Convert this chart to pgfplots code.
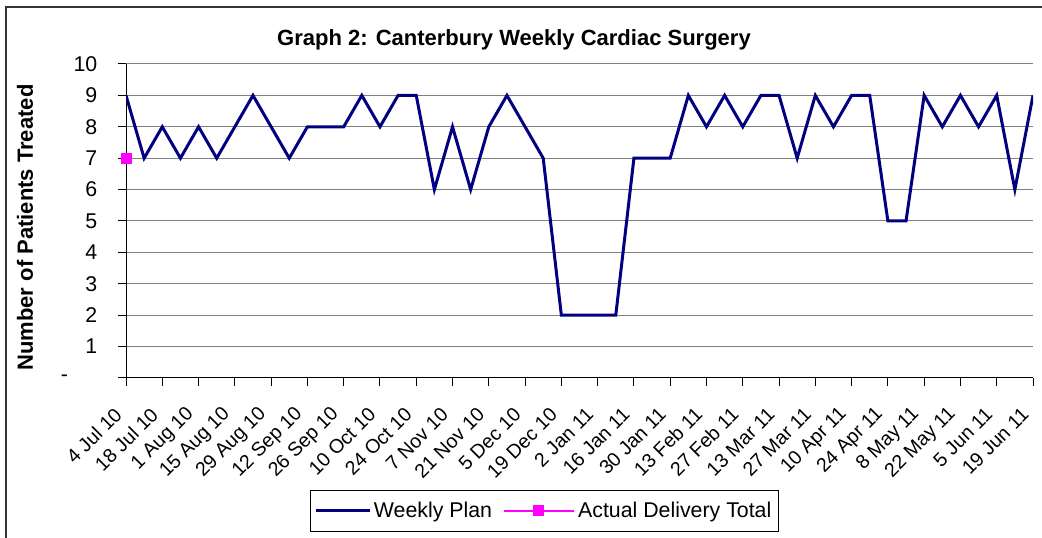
\documentclass[border=0pt]{standalone}
\usepackage{pgfplots}
\pgfplotsset{compat=1.18}
\usepackage{fontspec}
\setmainfont{Liberation Sans}

\definecolor{planNavy}{HTML}{000080}
\definecolor{actMagenta}{HTML}{FF00FF}
\definecolor{gridGray}{HTML}{808080}
\definecolor{frameGray}{HTML}{333333}

\newcommand{\lblfont}{\fontsize{16}{19}\selectfont}
\newcommand{\xlblfont}{\fontsize{14.7}{17}\selectfont}
\newcommand{\ttlfont}{\fontsize{16.5}{19}\selectfont\bfseries}

\pgfplotsset{
  planLegend/.style={legend image code/.code={\draw[##1] (0pt,0pt) -- (40pt,0pt);}},
  actLegend/.style={legend image code/.code={\draw[mark repeat=2,mark phase=2,##1] plot coordinates {(0pt,0pt) (26pt,0pt) (53pt,0pt)};}},
}

\begin{document}
\begin{tikzpicture}
  \useasboundingbox (0,0) rectangle (781.5pt,403.5pt);
  % chart frame (right and bottom edges fall outside the picture)
  \draw[frameGray, line width=1.5pt] (4.5pt,-2pt) -- (4.5pt,397.9pt) -- (784pt,397.9pt);
  \begin{axis}[
    at={(94.5pt,120pt)}, anchor=south west,
    scale only axis,
    width=680.25pt, height=235.5pt,
    xmin=0, xmax=50, ymin=0, ymax=10,
    axis x line=bottom, axis y line=left,
    axis line style={-, draw=black, line width=0.75pt},
    tick align=outside,
    major tick length=6pt,
    tick style={draw=black, line width=0.75pt},
    xtick={0,2,...,50},
    xticklabels={4 Jul 10,18 Jul 10,1 Aug 10,15 Aug 10,29 Aug 10,12 Sep 10,26 Sep 10,10 Oct 10,24 Oct 10,7 Nov 10,21 Nov 10,5 Dec 10,19 Dec 10,2 Jan 11,16 Jan 11,30 Jan 11,13 Feb 11,27 Feb 11,13 Mar 11,27 Mar 11,10 Apr 11,24 Apr 11,8 May 11,22 May 11,5 Jun 11,19 Jun 11},
    xticklabel style={font=\xlblfont, xshift=-3.4pt, yshift=-16.5pt, rotate=45, anchor=east},
    ytick={0,1,...,10},
    yticklabels={{-\kern22pt},1,2,3,4,5,6,7,8,9,10},
    yticklabel style={font=\lblfont, xshift=-12pt},
    ymajorgrids,
    major grid style={draw=gridGray, line width=0.75pt},
    title={Graph 2: Canterbury Weekly Cardiac Surgery},
    title style={font=\ttlfont, at={(0.4278,1.035)}, anchor=base, yshift=0pt},
    ylabel={Number of Patients Treated},
    ylabel style={font=\ttlfont, at={(-0.1114,0.479)}, anchor=center},
    legend columns=2,
    legend cell align=left,
    legend style={font=\lblfont, at={(0.4614,-0.4904)}, anchor=south,
      draw=black, line width=0.75pt, inner xsep=3pt, inner ysep=7pt,
      /tikz/every even column/.append style={column sep=6pt}},
  ]
    \addplot[planNavy, line width=2.25pt, mark=none, planLegend]
      coordinates {
        (0,9) (1,7) (2,8) (3,7) (4,8) (5,7) (6,8) (7,9) (8,8) (9,7)
        (10,8) (11,8) (12,8) (13,9) (14,8) (15,9) (16,9) (17,6) (18,8) (19,6)
        (20,8) (21,9) (22,8) (23,7) (24,2) (25,2) (26,2) (27,2) (28,7) (29,7)
        (30,7) (31,9) (32,8) (33,9) (34,8) (35,9) (36,9) (37,7) (38,9) (39,8)
        (40,9) (41,9) (42,5) (43,5) (44,9) (45,8) (46,9) (47,8) (48,9) (49,6)
        (50,9)
      };
    \addlegendentry{Weekly Plan}
    \addplot[actMagenta, line width=1.5pt, mark=square*, mark size=3.75pt,
      mark options={fill=actMagenta, draw=actMagenta, line width=0.5pt}, actLegend]
      coordinates {(0,7)};
    \addlegendentry{Actual Delivery Total}
  \end{axis}
\end{tikzpicture}
\end{document}
